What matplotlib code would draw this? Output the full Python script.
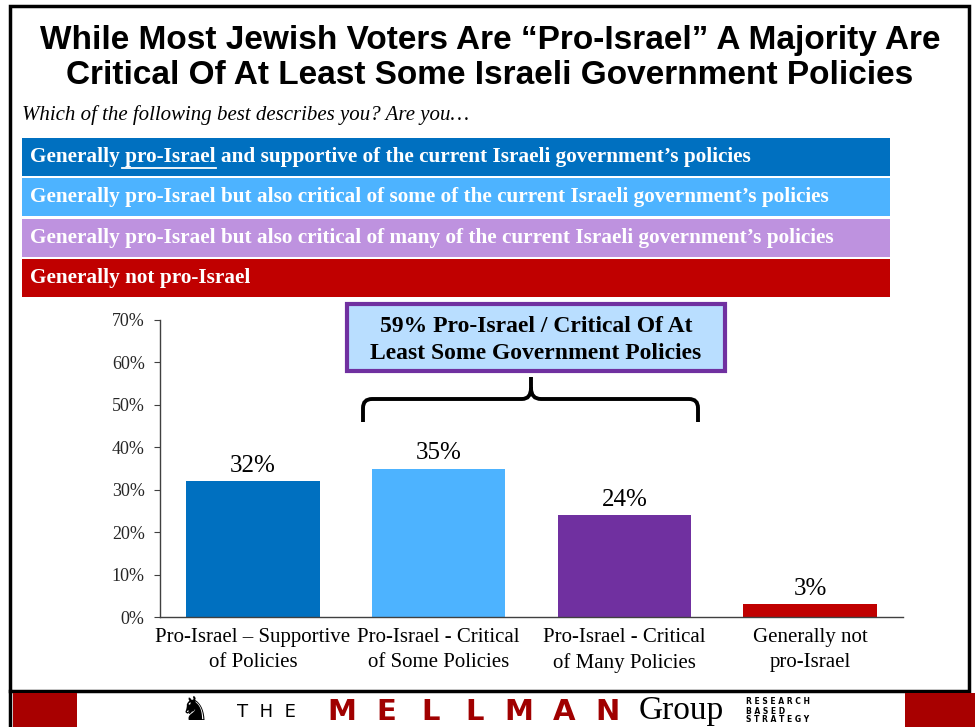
import numpy as np
import matplotlib.pyplot as plt
from matplotlib.patches import Rectangle, PathPatch
from matplotlib.path import Path

# data
categories = ["Pro-Israel \u2013 Supportive\nof Policies",
              "Pro-Israel - Critical\nof Some Policies",
              "Pro-Israel - Critical\nof Many Policies",
              "Generally not\npro-Israel"]
values = [32, 35, 24, 3]
bar_colors = ["#0070C0", "#4DB3FF", "#7030A0", "#C00000"]
yticks = [0, 10, 20, 30, 40, 50, 60, 70]

legend_rows = [
    "Generally pro-Israel and supportive of the current Israeli government\u2019s policies",
    "Generally pro-Israel but also critical of some of the current Israeli government\u2019s policies",
    "Generally pro-Israel but also critical of many of the current Israeli government\u2019s policies",
    "Generally not pro-Israel",
]
legend_colors = ["#0070C0", "#4DB3FF", "#BE92DF", "#C00000"]

title = "While Most Jewish Voters Are \u201cPro-Israel\u201d A Majority Are\nCritical Of At Least Some Israeli Government Policies"
subtitle = "Which of the following best describes you? Are you\u2026"
callout = "59% Pro-Israel / Critical Of At\nLeast Some Government Policies"

W, H = 975, 727
fig = plt.figure(figsize=(W / 100, H / 100), dpi=100)

# overlay in pixel coordinates for decorations
ov = fig.add_axes([0, 0, 1, 1], zorder=0)
ov.set_xlim(0, W)
ov.set_ylim(H, 0)
ov.axis("off")

serif = ["Liberation Serif", "DejaVu Serif"]

# outer frame
ov.add_patch(Rectangle((10, 6), 959, 685, fill=False, lw=2.5, ec="black"))
ov.plot([10, 10], [691, H], color="black", lw=2.5)
# bottom strip
ov.add_patch(Rectangle((13, 693), 64, 40, color="#A80000", lw=0))
ov.add_patch(Rectangle((905, 693), 75, 40, color="#A80000", lw=0))

# title
ov.text(490, 58, title, ha="center", va="center", fontsize=24, fontweight="bold",
        family=["Liberation Sans", "DejaVu Sans"], linespacing=1.2)
ov.text(22, 115, subtitle, ha="left", va="center", fontsize=15, style="italic", family=serif)

# legend rows
row_tops = [138, 178, 219, 259]
fs_row = 15.3
for txt, col, top in zip(legend_rows, legend_colors, row_tops):
    ov.add_patch(Rectangle((22, top), 868, 38, color=col, lw=0))
    ov.text(30, top + 19, txt, ha="left", va="center", fontsize=fs_row,
            fontweight="bold", color="white", family=serif)
# underline "pro-Israel" in the first row
fig.canvas.draw()
r = fig.canvas.get_renderer()
pre = ov.text(30, 157, "Generally ", fontsize=fs_row, fontweight="bold", family=serif, alpha=0)
word = ov.text(30, 157, "Generally pro-Israel", fontsize=fs_row, fontweight="bold", family=serif, alpha=0)
x0 = pre.get_window_extent(r).x1
x1 = word.get_window_extent(r).x1
ov.plot([x0 - 3, x1], [168, 168], color="white", lw=1.3)

# bar chart
ax = fig.add_axes([160 / W, 1 - 617 / H, 743 / W, 297 / H], zorder=1)
ax.patch.set_alpha(0)
x = np.arange(len(values))
ax.bar(x, values, width=0.72, color=bar_colors)
ax.set_xlim(-0.5, len(values) - 0.5)
ax.set_ylim(0, 70)
ax.set_yticks(yticks)
ax.set_yticklabels([f"{v}%" for v in yticks], family=serif, fontsize=13)
ax.set_xticks(x)
ax.set_xticklabels(categories, family=serif, fontsize=15, linespacing=1.4)
ax.tick_params(axis="x", length=0, pad=8)
ax.tick_params(axis="y", length=4, color="#404040", pad=7)
for lab in ax.get_yticklabels():
    lab.set_color("#262626")
for s in ["top", "right"]:
    ax.spines[s].set_visible(False)
for s in ["left", "bottom"]:
    ax.spines[s].set_color("#404040")
    ax.spines[s].set_linewidth(1)
for xi, v in zip(x, values):
    ax.text(xi, v + 1.0, f"{v}%", ha="center", va="bottom", fontsize=18, family=serif)

# callout box and brace
ov.add_patch(Rectangle((347, 304), 378, 67, facecolor="#B9DEFF", edgecolor="#7030A0", lw=3, zorder=3))
ov.text(536, 340, callout, ha="center", va="center", fontsize=17, fontweight="bold",
        family=serif, linespacing=1.4, zorder=4)
verts = [(363, 422), (363, 408), (363, 399), (372, 399), (522, 399), (531, 399), (531, 388),
         (531, 377), (531, 388), (531, 399), (541, 399), (689, 399), (698, 399), (698, 408), (698, 422)]
codes = [Path.MOVETO, Path.LINETO, Path.CURVE3, Path.CURVE3, Path.LINETO, Path.CURVE3, Path.CURVE3,
         Path.LINETO, Path.MOVETO, Path.CURVE3, Path.CURVE3, Path.LINETO, Path.CURVE3, Path.CURVE3, Path.LINETO]
ov.add_patch(PathPatch(Path(verts, codes), fill=False, lw=2.8, ec="black", capstyle="butt"))

# logo
ov.text(195, 711, "\u265E", ha="center", va="center", fontsize=24, family="DejaVu Sans")
ov.text(266, 712, "T  H  E", ha="center", va="center", fontsize=13, family="DejaVu Sans")
for cx, ch in zip(np.linspace(342, 608, 7), "MELLMAN"):
    ov.text(cx, 712, ch, ha="center", va="center", fontsize=21, fontweight="bold",
            color="#A00000", family="DejaVu Sans")
ov.text(639, 711, "Group", ha="left", va="center", fontsize=24, family=serif)
for yy, w in zip([702, 711, 720], ["R E S E A R C H", "B A S E D", "S T R A T E G Y"]):
    ov.text(746, yy, w, ha="left", va="center", fontsize=5.5, fontweight="bold", family="DejaVu Sans")

fig.savefig("out.png", dpi=100)
